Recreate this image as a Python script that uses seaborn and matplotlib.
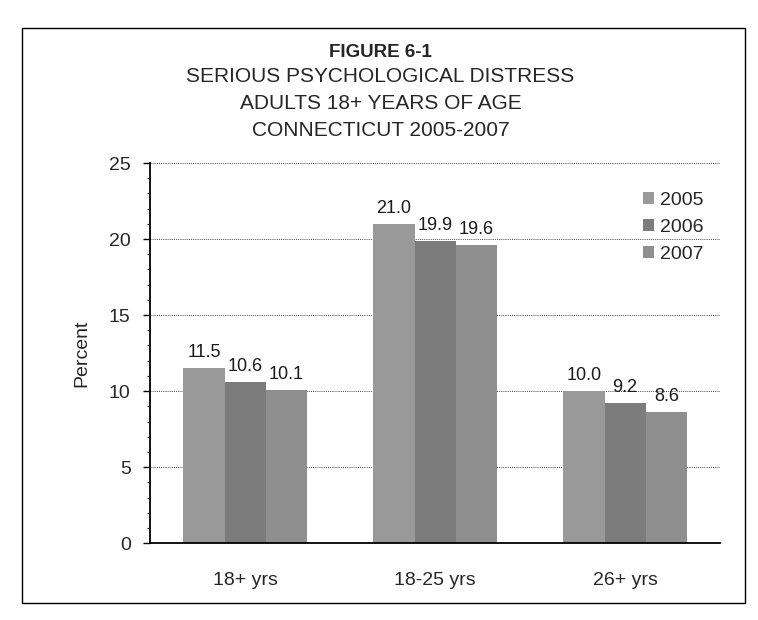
import matplotlib
matplotlib.use("Agg")
import matplotlib.pyplot as plt
import seaborn as sns
import pandas as pd
from matplotlib.patches import Rectangle

# Age groups and yearly prevalence (%)
age_groups = ["18+ yrs", "18-25 yrs", "26+ yrs"]
years = ["2005", "2006", "2007"]
pct_2005 = [11.5, 21.0, 10.0]
pct_2006 = [10.6, 19.9, 9.2]
pct_2007 = [10.1, 19.6, 8.6]
y_ticks = [0, 5, 10, 15, 20, 25]

figure_label = "FIGURE 6-1"
title_lines = ["SERIOUS PSYCHOLOGICAL DISTRESS",
               "ADULTS 18+ YEARS OF AGE",
               "CONNECTICUT 2005-2007"]

rows = []
for yr, vals in zip(years, [pct_2005, pct_2006, pct_2007]):
    for grp, v in zip(age_groups, vals):
        rows.append({"group": grp, "year": yr, "pct": v})
df = pd.DataFrame(rows)

sns.set_theme(style="white")
plt.rcParams["font.family"] = ["Liberation Sans", "DejaVu Sans"]

fig = plt.figure(figsize=(7.58, 6.2), dpi=100)
ax = fig.add_axes([0.198, 0.124, 0.752, 0.613])

palette = {"2005": "#999999", "2006": "#7c7c7c", "2007": "#8f8f8f"}
sns.barplot(data=df, x="group", y="pct", hue="year", order=age_groups,
            hue_order=years, palette=palette, width=0.65, ax=ax,
            errorbar=None, edgecolor="none", saturation=1, legend=False)

for cont in ax.containers:
    ax.bar_label(cont, fmt="%.1f", padding=5, fontsize=13, color="#1a1a1a")

ax.set_ylim(0, 25)
ax.set_yticks(y_ticks)
ax.set_yticks(range(0, 26), minor=True)
ax.tick_params(axis="y", which="major", direction="out", length=5, width=1,
               color="black", labelsize=14, left=True, pad=9)
ax.tick_params(axis="y", which="minor", direction="out", length=2.5,
               width=0.8, color="black", left=True)
ax.tick_params(axis="x", labelsize=14, bottom=False, pad=15)
ax.set_xlabel("")
ax.set_ylabel("Percent", fontsize=14, labelpad=13)

ax.yaxis.grid(True, which="major", linestyle=(0, (1, 1.2)), color="#444444",
              linewidth=0.7)
ax.set_axisbelow(True)
for side in ["top", "right"]:
    ax.spines[side].set_visible(False)
for side in ["left", "bottom"]:
    ax.spines[side].set_color("black")
    ax.spines[side].set_linewidth(1.3)

# Year key at the upper right of the plot area
handles = [Rectangle((0, 0), 1, 1, facecolor=palette[y], edgecolor="none")
           for y in years]
fig.legend(handles, years, loc="upper left", bbox_to_anchor=(0.835, 0.706),
           frameon=False, fontsize=14, handlelength=0.6, handleheight=0.6,
           handletextpad=0.3, labelspacing=0.5, borderpad=0)

# Outer frame of the figure panel
fig.patches.append(Rectangle((0.029, 0.027), 0.954, 0.928,
                             transform=fig.transFigure, fill=False,
                             edgecolor="black", linewidth=1.0))

fig.text(0.502, 0.916, figure_label, ha="center", va="center",
         fontsize=13.5, fontweight="bold")
for i, line in enumerate(title_lines):
    fig.text(0.502, 0.876 - i * 0.043, line, ha="center", va="center",
             fontsize=15)

fig.savefig("out.png", dpi=100)
